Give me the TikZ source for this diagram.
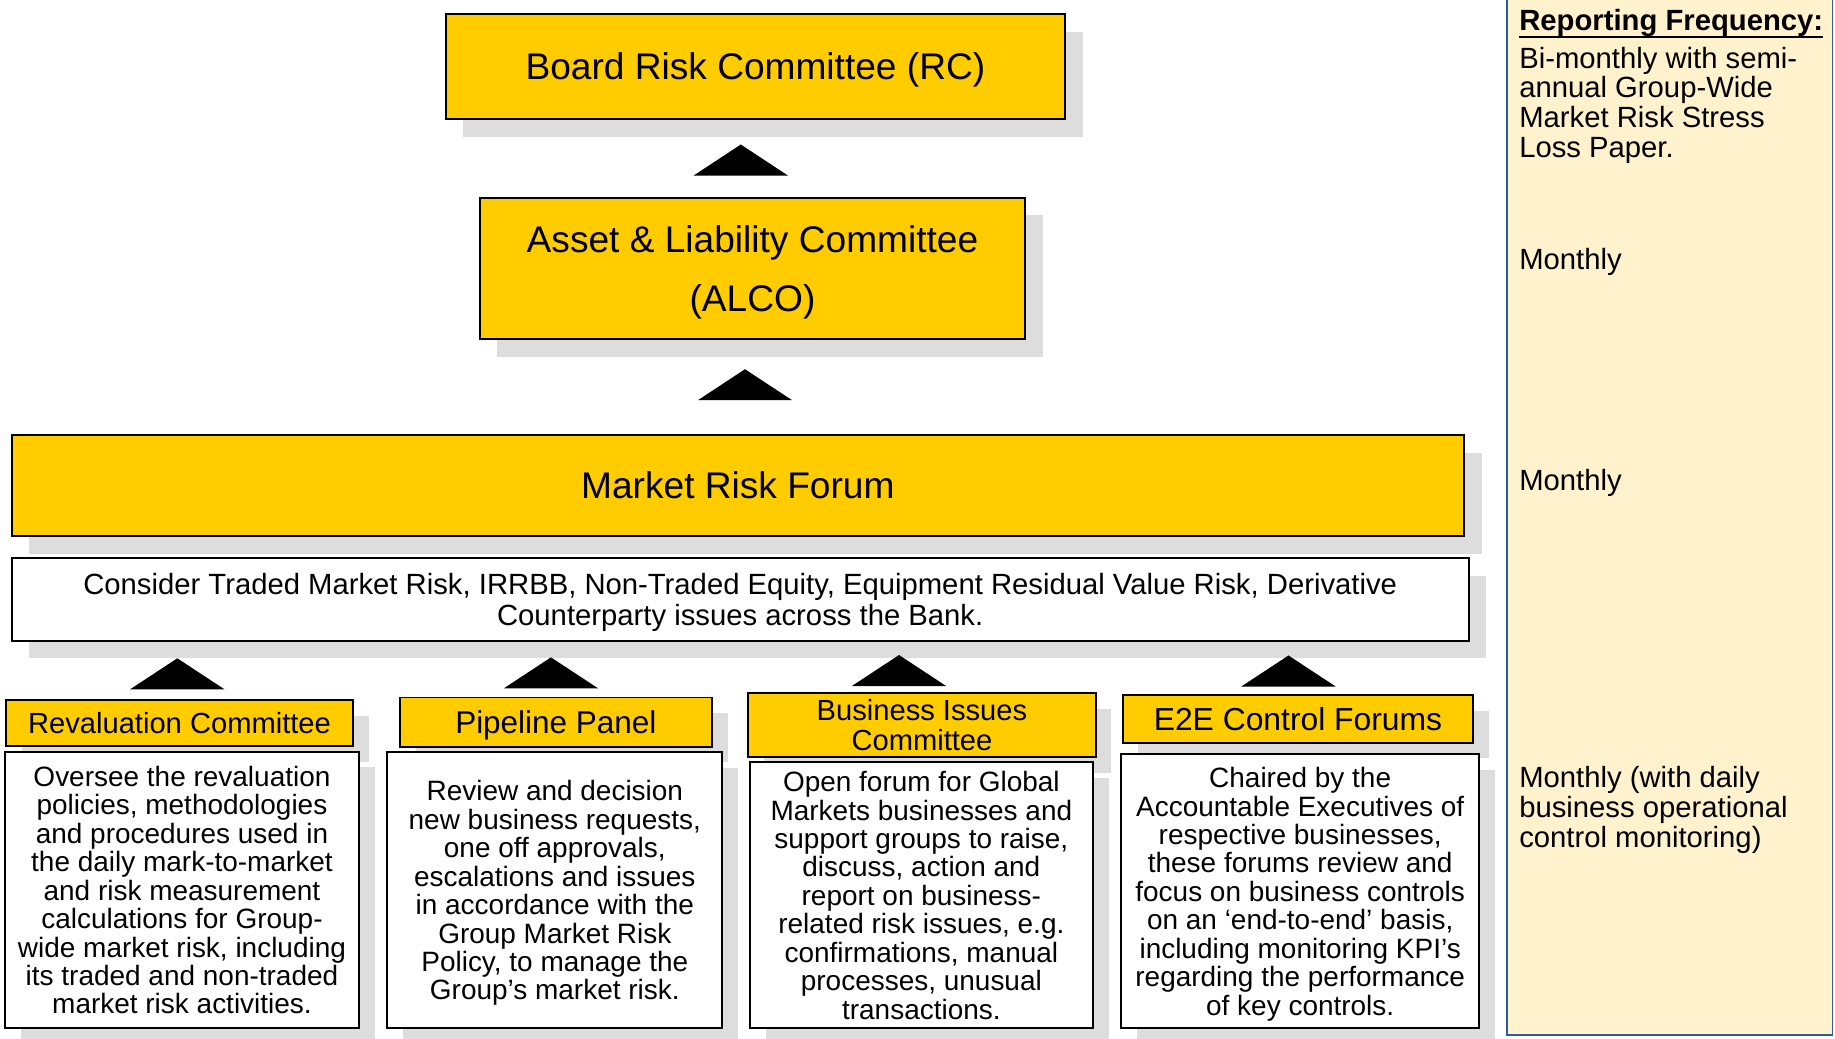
\documentclass[tikz,border=0pt]{standalone}
\usepackage{fontspec}
\setmainfont{Liberation Sans}
\usetikzlibrary{shadows}
\definecolor{gold}{HTML}{FFCC00}
\definecolor{shgray}{HTML}{DDDDDD}
\definecolor{panelfill}{HTML}{FFF2CC}
\definecolor{panelline}{HTML}{2E5C9A}
\tikzset{
  box/.style={draw=black, line width=1.6pt, inner sep=0pt, align=center, text depth=0pt},
  ybox/.style={box, fill=gold},
  wbox/.style={box, fill=white},
  bigsh/.style={drop shadow={shadow xshift=15pt, shadow yshift=-15pt, fill=shgray, opacity=1}},
  smallsh/.style={drop shadow={shadow xshift=13.5pt, shadow yshift=-13.5pt, fill=shgray, opacity=1}},
  bigfont/.style={font=\fontsize{31.7}{50}\selectfont},
  descfont/.style={font=\fontsize{23.9}{24.3}\selectfont},
  freqtext/.style={anchor=north west, inner sep=0pt, align=left, font=\fontsize{25}{25.6}\selectfont},
  uptri/.pic={\fill[black] (-40.3,0) -- (0,-26.5) -- (40.3,0) -- cycle;}
}
\begin{document}
\begin{tikzpicture}[x=1pt,y=-1pt]
\useasboundingbox (0,0) rectangle (1568,887);
\fill[white] (0,0) rectangle (1568,887);

% right panel
\node[fill=panelfill, draw=none, minimum width=277.5pt, minimum height=889.4pt, inner sep=0pt] (freq) at (1426.75,439.7) {};
\draw[panelline, line width=1.3pt] (freq.north west) -- (freq.south west) -- (freq.south east) -- (freq.north east);

% top boxes
\node[ybox, bigsh, bigfont, minimum width=529pt, minimum height=90pt, text height=22.7pt] (rc) at (645.5,57) {Board Risk Committee (RC)};
\node[ybox, bigsh, bigfont, minimum width=466pt, minimum height=121pt] (alco) at (643,229.5) {Asset \& Liability Committee\\(ALCO)};
\node[ybox, bigsh, bigfont, minimum width=1241pt, minimum height=86pt, text height=22.7pt] (mrf) at (630.5,415) {Market Risk Forum};
\node[wbox, bigsh, font=\fontsize{25}{26}\selectfont, minimum width=1245pt, minimum height=70.5pt] (scope) at (632.5,512.2) {Consider Traded Market Risk, IRRBB, Non-Traded Equity, Equipment Residual Value Risk, Derivative\\Counterparty issues across the Bank.};

\pic at (633,150) {uptri};
\pic at (636.6,342) {uptri};

% bottom headers and descriptions
\node[ybox, smallsh, font=\fontsize{24.9}{26}\selectfont, text height=17.8pt, minimum width=296.8pt, minimum height=39.2pt] (rev) at (153.4,617.6) {Revaluation Committee};
\node[wbox, smallsh, descfont, minimum width=302.5pt, minimum height=236.4pt] (revd) at (155.5,760.5) {Oversee the revaluation\\policies, methodologies\\and procedures used in\\the daily mark-to-market\\and risk measurement\\calculations for Group-\\wide market risk, including\\its traded and non-traded\\market risk activities.};

\node[ybox, smallsh, font=\fontsize{26.9}{28}\selectfont, text height=19.3pt, minimum width=266.3pt, minimum height=41.9pt] (pipe) at (475,617) {Pipeline Panel};
\node[wbox, smallsh, descfont, minimum width=286.2pt, minimum height=235.9pt] (piped) at (474.1,760.7) {Review and decision\\new business requests,\\one off approvals,\\escalations and issues\\in accordance with the\\Group Market Risk\\Policy, to manage the\\Group’s market risk.};

\node[ybox, smallsh, font=\fontsize{24.9}{26}\selectfont, minimum width=296.8pt, minimum height=54.2pt] (bus) at (787.8,619.5) {Business Issues\\Committee};
\node[wbox, smallsh, descfont, minimum width=292.8pt, minimum height=227.3pt] (busd) at (787.3,765) {Open forum for Global\\Markets businesses and\\support groups to raise,\\discuss, action and\\report on business-\\related risk issues, e.g.\\confirmations, manual\\processes, unusual\\transactions.};

\node[ybox, smallsh, font=\fontsize{27.2}{28}\selectfont, text height=19.5pt, minimum width=299.6pt, minimum height=40.7pt] (e2e) at (1109.1,614.2) {E2E Control Forums};
\node[wbox, smallsh, descfont, minimum width=306.1pt, minimum height=234.4pt] (e2ed) at (1111,761.5) {Chaired by the\\Accountable Executives of\\respective businesses,\\these forums review and\\focus on business controls\\on an ‘end-to-end’ basis,\\including monitoring KPI’s\\regarding the performance\\of key controls.};

\pic at (151.5,589) {uptri};
\pic at (470.8,588.2) {uptri};
\pic at (768.2,586.2) {uptri};
\pic at (1101,586.6) {uptri};

% reporting frequency texts
\node[freqtext, font=\fontsize{25}{25.6}\selectfont\bfseries] (rfh) at (1298,7.7) {Reporting Frequency:};
\draw[line width=1.7pt] ([yshift=-5.2pt]rfh.base west) -- ([yshift=-5.2pt]rfh.base east);
\node[freqtext] (f1) at (1298,39.8) {Bi-monthly with semi-\\annual Group-Wide\\Market Risk Stress\\Loss Paper.};
\node[freqtext] (f2) at (1298,212.2) {Monthly};
\node[freqtext] (f3) at (1298,401.1) {Monthly};
\node[freqtext] (f4) at (1298,654.4) {Monthly (with daily\\business operational\\control monitoring)};
\end{tikzpicture}
\end{document}
